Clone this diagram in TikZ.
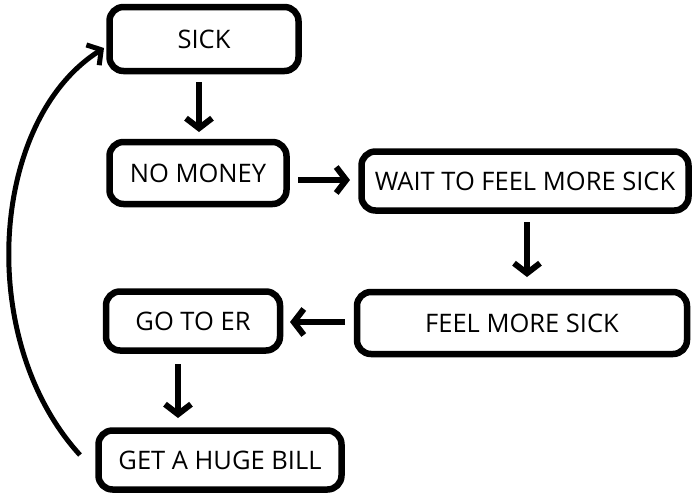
\documentclass[tikz,border=0pt]{standalone}
\usepackage{fontspec}
\setmainfont{Open Sans}
\usetikzlibrary{arrows.meta}
\begin{document}
\begin{tikzpicture}[x=1pt,y=-1pt,
 box/.style={draw=black,line width=6.5pt,rounded corners=14pt,inner sep=0pt,align=center,font=\fontsize{25.5}{28}\selectfont},
 arr/.style={line width=6pt,-{Straight Barb[length=10pt,width=26pt,line width=6pt]}}]
\useasboundingbox (0,0) rectangle (694,499);
\node[box,minimum width=189pt,minimum height=64pt] (sick) at (204,39) {SICK};
\node[box,minimum width=177pt,minimum height=62pt] (nomoney) at (198,173) {NO MONEY};
\node[box,minimum width=327pt,minimum height=59pt] (wait) at (525,181) {WAIT TO FEEL MORE SICK};
\node[box,minimum width=330pt,minimum height=62pt] (feel) at (522,323) {FEEL MORE SICK};
\node[box,minimum width=174pt,minimum height=59pt] (er) at (193,321) {GO TO ER};
\node[box,minimum width=243pt,minimum height=59pt] (bill) at (220,460) {GET A HUGE BILL};
\coordinate (a1) at (199,82); \coordinate (a2) at (199,132);
\coordinate (b1) at (298,180); \coordinate (b2) at (350,180);
\coordinate (c1) at (527,222); \coordinate (c2) at (527,277);
\coordinate (d1) at (345,322); \coordinate (d2) at (290,322);
\coordinate (e1) at (178,364); \coordinate (e2) at (178,418);
\coordinate (f1) at (80,455); \coordinate (f2) at (104,48);
\draw[arr] (a1) -- (a2);
\draw[arr] (b1) -- (b2);
\draw[arr] (c1) -- (c2);
\draw[arr] (d1) -- (d2);
\draw[arr] (e1) -- (e2);
\draw[line width=5pt,-{Straight Barb[length=10pt,width=24pt,line width=5pt]}] (f1) .. controls (-25,340) and (-10,120) .. (f2);
\end{tikzpicture}
\end{document}
